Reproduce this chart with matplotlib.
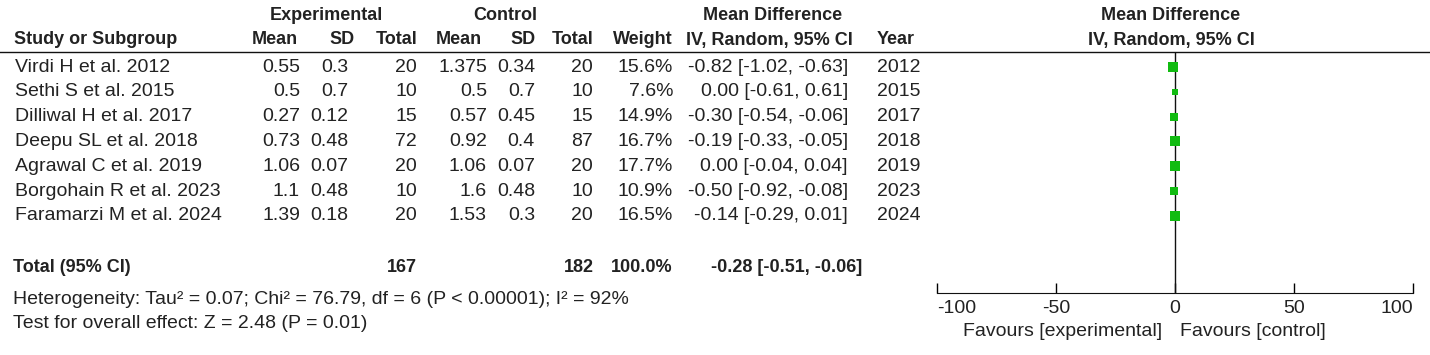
import matplotlib
matplotlib.use("Agg")
import matplotlib.pyplot as plt

plt.rcParams["font.family"] = ["Liberation Sans", "DejaVu Sans"]
plt.rcParams["axes.unicode_minus"] = False

# Study data
studies = ["Virdi H et al. 2012", "Sethi S et al. 2015", "Dilliwal H et al. 2017",
           "Deepu SL et al. 2018", "Agrawal C et al. 2019", "Borgohain R et al. 2023",
           "Faramarzi M et al. 2024"]
exp_mean = ["0.55", "0.5", "0.27", "0.73", "1.06", "1.1", "1.39"]
exp_sd = ["0.3", "0.7", "0.12", "0.48", "0.07", "0.48", "0.18"]
exp_n = [20, 10, 15, 72, 20, 10, 20]
ctl_mean = ["1.375", "0.5", "0.57", "0.92", "1.06", "1.6", "1.53"]
ctl_sd = ["0.34", "0.7", "0.45", "0.4", "0.07", "0.48", "0.3"]
ctl_n = [20, 10, 15, 87, 20, 10, 20]
weight = [15.6, 7.6, 14.9, 16.7, 17.7, 10.9, 16.5]
md = [-0.82, 0.00, -0.30, -0.19, 0.00, -0.50, -0.14]
ci_lo = [-1.02, -0.61, -0.54, -0.33, -0.04, -0.92, -0.29]
ci_hi = [-0.63, 0.61, -0.06, -0.05, 0.04, -0.08, 0.01]
years = [2012, 2015, 2017, 2018, 2019, 2023, 2024]

total_weight = 100.0
total_md, total_lo, total_hi = -0.28, -0.51, -0.06
heterogeneity = "Heterogeneity: Tau² = 0.07; Chi² = 76.79, df = 6 (P < 0.00001); I² = 92%"
overall = "Test for overall effect: Z = 2.48 (P = 0.01)"
axis_ticks = [-100, -50, 0, 50, 100]

TXT = "#222222"
FS = 14      # body text
FS_B = 13    # bold header text
W, H = 1430, 355

fig = plt.figure(figsize=(W / 100, H / 100), dpi=100)
ax = fig.add_axes([0, 0, 1, 1])
ax.set_xlim(0, W)
ax.set_ylim(H, 0)
ax.axis("off")


def put(x, y, s, ha="left", bold=False):
    ax.text(x, y, s, ha=ha, va="center", fontsize=FS_B if bold else FS, color=TXT,
            fontweight="bold" if bold else "normal")


# header
put(326, 15, "Experimental", ha="center", bold=True)
put(505, 15, "Control", ha="center", bold=True)
put(773, 15, "Mean Difference", ha="center", bold=True)
put(1171, 15, "Mean Difference", ha="center", bold=True)
put(14, 40, "Study or Subgroup", bold=True)
for x, lab in [(298, "Mean"), (355, "SD"), (417, "Total"), (482, "Mean"),
               (536, "SD"), (594, "Total"), (673, "Weight"), (853, "IV, Random, 95% CI")]:
    put(x, 40, lab, ha="right", bold=True)
put(877, 40, "Year", bold=True)
put(1171, 40, "IV, Random, 95% CI", ha="center", bold=True)
ax.plot([0, W], [52, 52], color="#111111", lw=1)

row_y = [67 + 24.8 * i for i in range(len(studies))]
for i, y in enumerate(row_y):
    put(15, y, studies[i])
    put(300, y, exp_mean[i], ha="right")
    put(348, y, exp_sd[i], ha="right")
    put(417, y, str(exp_n[i]), ha="right")
    put(487, y, ctl_mean[i], ha="right")
    put(535, y, ctl_sd[i], ha="right")
    put(593, y, str(ctl_n[i]), ha="right")
    put(673, y, f"{weight[i]:.1f}%", ha="right")
    put(848, y, f"{md[i]:.2f} [{ci_lo[i]:.2f}, {ci_hi[i]:.2f}]", ha="right")
    put(877, y, str(years[i]))

total_y = 268
put(13, total_y, "Total (95% CI)", bold=True)
put(417, total_y, str(sum(exp_n)), ha="right", bold=True)
put(594, total_y, str(sum(ctl_n)), ha="right", bold=True)
put(673, total_y, f"{total_weight:.1f}%", ha="right", bold=True)
put(862, total_y, f"{total_md:.2f} [{total_lo:.2f}, {total_hi:.2f}]", ha="right", bold=True)
put(13, 300, heterogeneity)
put(13, 324, overall)

# forest plot panel
x0, x1, ytop, yax = 937, 1413, 52, 293
fp = fig.add_axes([x0 / W, (H - yax) / H, (x1 - x0) / W, (yax - ytop) / H])
fp.set_xlim(axis_ticks[0], axis_ticks[-1])
fp.set_ylim(yax, ytop)
fp.patch.set_alpha(0)
for s in ["top", "left", "right"]:
    fp.spines[s].set_visible(False)
fp.spines["bottom"].set_color("#111111")
fp.set_yticks([])
fp.set_xticks(axis_ticks)
fp.set_xticks([axis_ticks[0], axis_ticks[-1]], minor=True)
fp.tick_params(axis="x", which="major", direction="in", length=7, width=1,
               labelsize=FS, labelcolor=TXT, pad=5)
fp.tick_params(axis="x", which="minor", direction="out", length=6, width=1)
labels = fp.get_xticklabels()
labels[0].set_ha("left")
labels[-1].set_ha("right")
fp.axvline(0, color="#111111", lw=1)

for i, y in enumerate(row_y):
    fp.plot([ci_lo[i], ci_hi[i]], [y, y], color="#111111", lw=1)
    fp.plot(md[i], y, marker="s", color="#11bb11", markersize=2 + weight[i] * 0.3,
            markeredgewidth=0)

put(1162, 332, "Favours [experimental]", ha="right")
put(1180, 332, "Favours [control]")

fig.savefig("out.png", dpi=100)
